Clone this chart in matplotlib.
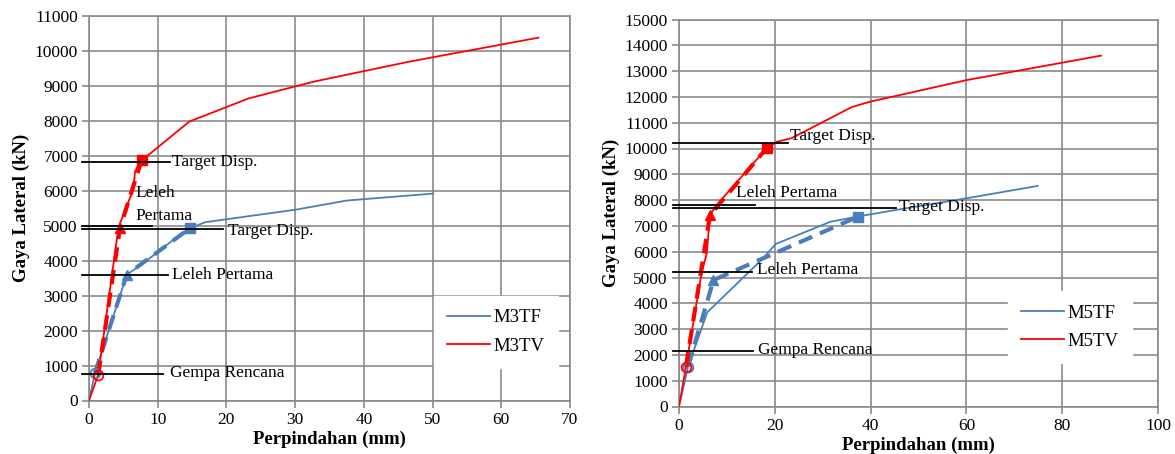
import matplotlib
matplotlib.use("Agg")
import matplotlib.pyplot as plt

plt.rcParams['font.family'] = ['Liberation Serif', 'DejaVu Serif']

# ---- M3 (left) ----
m3tf_x = [0, 0.87, 5.5, 7.2, 10.1, 13.2, 14.7, 16.9, 30.1, 37.5, 50.1]
m3tf_y = [0, 790, 3600, 3830, 4260, 4740, 4930, 5100, 5460, 5720, 5920]
m3tv_x = [0, 1.35, 4.3, 6.45, 6.7, 7.42, 8.4, 14.6, 23.2, 30.1, 32.9, 46.5, 65.4]
m3tv_y = [0, 740, 4960, 6040, 6550, 6840, 6985, 7980, 8640, 8990, 9130, 9690, 10380]
m3tf_bi_x = [0.87, 5.5, 14.7]
m3tf_bi_y = [790, 3600, 4930]
m3tv_bi_x = [1.35, 4.5, 7.67]
m3tv_bi_y = [730, 4930, 6880]
m3_ref_y = [6830, 4990, 4910, 3590, 760]
m3_ref_end = [11.8, 9.1, 19.5, 11.5, 10.8]
m3_ref_text = ['Target Disp.', 'Leleh\nPertama', 'Target Disp.', 'Leleh Pertama', 'Gempa Rencana']

# ---- M5 (right) ----
m5tf_x = [0, 1.9, 5.9, 17.2, 20.2, 31.6, 37.2, 46, 60, 74.9]
m5tf_y = [0, 1550, 3650, 5680, 6300, 7160, 7360, 7640, 8070, 8550]
m5tv_x = [0, 1.46, 4.7, 5.8, 6.46, 7.85, 18.3, 20.4, 23.5, 36, 39.8, 60, 88.1]
m5tv_y = [0, 1550, 5160, 5940, 7420, 7810, 10010, 10260, 10400, 11600, 11810, 12650, 13600]
m5tf_bi_x = [1.9, 7.2, 37.4]
m5tf_bi_y = [1550, 4900, 7360]
m5tv_bi_x = [1.46, 6.46, 18.3]
m5tv_bi_y = [1550, 7420, 10010]
m5_ref_y = [10225, 7810, 7690, 5225, 2163]
m5_ref_end = [22.8, 15.8, 45.4, 15.2, 15.5]
m5_ref_text = ['Target Disp.', 'Leleh Pertama', 'Target Disp.', 'Leleh Pertama', 'Gempa Rencana']

BLUE = '#4a7ebb'
RED = '#ff0000'
GRID = '#8a8a8a'

fig = plt.figure(figsize=(11.75, 4.54), dpi=100)
ax1 = fig.add_axes([89/1175, 1-400.5/454, 481/1175, 384.5/454])
ax2 = fig.add_axes([679/1175, 1-406.5/454, 479/1175, 387/454])


def draw(ax, tf, tv, tf_bi, tv_bi, names, ref_y, ref_end, ref_text, text_pos, x0,
         xlim, xstep, ylim, ystep, leg_pos):
    ax.plot(tf[0], tf[1], color=BLUE, lw=1.3, label=names[0], zorder=3)
    ax.plot(tv[0], tv[1], color=RED, lw=1.3, label=names[1], zorder=3)
    for (bx, by), c in [(tf_bi, BLUE), (tv_bi, RED)]:
        ax.plot(bx, by, color=c, lw=3, dashes=(3.5, 2), zorder=4)
        ax.plot(bx[:1], by[:1], 'o', ms=7, mfc='none', mec=c, mew=1.3, zorder=5)
        ax.plot(bx[1:2], by[1:2], '^', ms=7, color=c, zorder=5)
        ax.plot(bx[2:], by[2:], 's', ms=7, color=c, zorder=5)
    for y, e, t, (tx, ty) in zip(ref_y, ref_end, ref_text, text_pos):
        ax.plot([x0, e], [y, y], color='black', lw=1.3, clip_on=False, zorder=6)
        ax.text(tx, ty, t, fontsize=12.5, va='center', ha='left', linespacing=1.6, zorder=6)
    ax.set_xlim(*xlim)
    ax.set_ylim(*ylim)
    ax.set_xticks(range(xlim[0], xlim[1] + 1, xstep))
    ax.set_yticks(range(ylim[0], ylim[1] + 1, ystep))
    ax.grid(True, color=GRID, lw=1.2, zorder=0)
    ax.set_axisbelow(True)
    for s in ax.spines.values():
        s.set_color(GRID)
        s.set_linewidth(1.2)
    ax.tick_params(direction='out', length=5, width=1.2, color=GRID, labelsize=12.5, pad=3)
    ax.set_xlabel('Perpindahan (mm)', fontsize=13.5, fontweight='bold', labelpad=2)
    ax.set_ylabel('Gaya Lateral (kN)', fontsize=13.5, fontweight='bold', labelpad=3)
    leg = ax.legend(loc='center', bbox_to_anchor=leg_pos, frameon=True, fontsize=13.5,
                    handlelength=2.3, handletextpad=0.2, labelspacing=0.6,
                    borderpad=0.7, fancybox=False)
    leg.get_frame().set_edgecolor('white')
    leg.get_frame().set_alpha(1)


draw(ax1, (m3tf_x, m3tf_y), (m3tv_x, m3tv_y), (m3tf_bi_x, m3tf_bi_y), (m3tv_bi_x, m3tv_bi_y),
     ['M3TF', 'M3TV'], m3_ref_y, m3_ref_end, m3_ref_text,
     [(12.1, 6830), (6.7, 5600), (20.2, 4860), (12.1, 3590), (11.8, 790)], -1.0,
     (0, 70), 10, (0, 11000), 1000, (0.846, 0.178))

draw(ax2, (m5tf_x, m5tf_y), (m5tv_x, m5tv_y), (m5tf_bi_x, m5tf_bi_y), (m5tv_bi_x, m5tv_bi_y),
     ['M5TF', 'M5TV'], m5_ref_y, m5_ref_end, m5_ref_text,
     [(23.2, 10480), (11.9, 8275), (46.0, 7740), (16.2, 5290), (16.5, 2190)], -1.3,
     (0, 100), 20, (0, 15000), 1000, (0.816, 0.205))

fig.savefig('out.png', dpi=100)
